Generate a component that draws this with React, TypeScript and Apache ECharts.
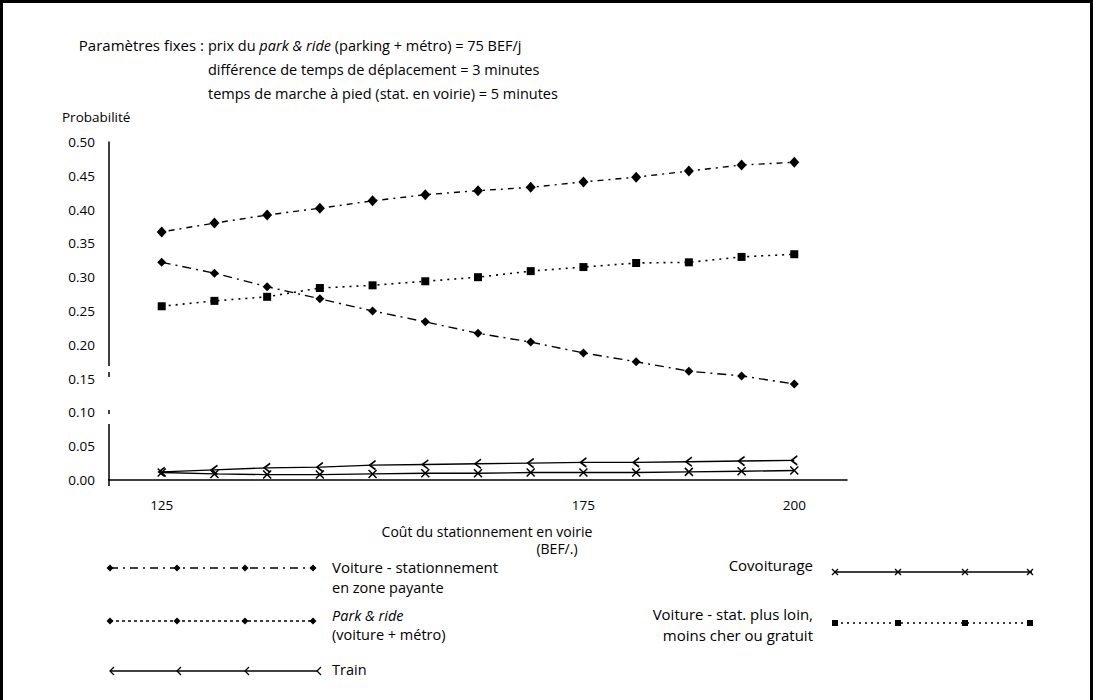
import React, { useEffect, useRef } from "react";
import * as echarts from "echarts";

const xValues = [125, 131.25, 137.5, 143.75, 150, 156.25, 162.5, 168.75, 175, 181.25, 187.5, 193.75, 200];
const xTickLabels = [125, 175, 200];
const yTickLabels = ["0.00", "0.05", "0.10", "0.15", "0.20", "0.25", "0.30", "0.35", "0.40", "0.45", "0.50"];

const parkRide = [0.367, 0.38, 0.392, 0.402, 0.413, 0.422, 0.428, 0.433, 0.441, 0.448, 0.457, 0.466, 0.47];
const voitureZone = [0.322, 0.306, 0.286, 0.268, 0.25, 0.234, 0.217, 0.204, 0.188, 0.175, 0.161, 0.154, 0.142];
const voitureLoin = [0.257, 0.265, 0.271, 0.284, 0.288, 0.294, 0.3, 0.309, 0.315, 0.321, 0.322, 0.33, 0.334];
const train = [0.012, 0.015, 0.018, 0.019, 0.022, 0.023, 0.024, 0.025, 0.026, 0.026, 0.027, 0.028, 0.029];
const covoit = [0.011, 0.009, 0.008, 0.008, 0.009, 0.01, 0.01, 0.011, 0.011, 0.011, 0.012, 0.013, 0.014];

const FONT = '"Open Sans", "Noto Sans", sans-serif';
const FS_TXT = 14.5;

const pair = (ys: number[]) => xValues.map((x, i) => [x, ys[i]]);

function txt(x: number, y: number, text: string, align = "left", italic = false, size = FS_TXT) {
  return {
    type: "text",
    x,
    y,
    silent: true,
    style: {
      text,
      fill: "#000",
      fontSize: size,
      fontFamily: FONT,
      fontStyle: italic ? "italic" : "normal",
      align,
      verticalAlign: "middle",
    },
  };
}

function marker(kind: string, x: number, y: number): any {
  if (kind === "diamond") {
    return { type: "polygon", shape: { points: [[x, y - 3.5], [x + 3.5, y], [x, y + 3.5], [x - 3.5, y]] }, style: { fill: "#000" } };
  }
  if (kind === "square") {
    return { type: "rect", shape: { x: x - 3, y: y - 3, width: 6, height: 6 }, style: { fill: "#000" } };
  }
  if (kind === "x") {
    return {
      type: "group",
      children: [
        { type: "line", shape: { x1: x - 3, y1: y - 3, x2: x + 3, y2: y + 3 }, style: { stroke: "#000", lineWidth: 1.3 } },
        { type: "line", shape: { x1: x + 3, y1: y - 3, x2: x - 3, y2: y + 3 }, style: { stroke: "#000", lineWidth: 1.3 } },
      ],
    };
  }
  return { type: "polyline", shape: { points: [[x + 4, y - 4], [x, y], [x + 4, y + 4]] }, style: { stroke: "#000", fill: "none", lineWidth: 1.3 } };
}

function legendRow(x1: number, x2: number, y: number, dash: any, kind: string, marks: number[]) {
  const els: any[] = [
    { type: "line", shape: { x1, y1: y, x2, y2: y }, style: { stroke: "#000", lineWidth: 1.3, lineDash: dash } },
  ];
  marks.forEach((mx) => els.push(marker(kind, mx, y)));
  return { type: "group", silent: true, children: els };
}

export default function App() {
  const ref = useRef<HTMLDivElement>(null);
  useEffect(() => {
    const chart = echarts.init(ref.current!, null, { renderer: "svg" });
    const lineBase = { color: "#000", width: 1.4 };
    const option: any = {
      animation: false,
      backgroundColor: "#fff",
      grid: { left: 109, right: 246, top: 142, bottom: 220, containLabel: false },
      xAxis: {
        type: "value",
        min: 118.75,
        max: 206.25,
        interval: 6.25,
        offset: 5,
        axisLine: { show: true, lineStyle: { color: "#000", width: 1.5 } },
        axisTick: { show: false },
        splitLine: { show: false },
        axisLabel: {
          margin: 13,
          color: "#000",
          fontSize: 13.5,
          fontFamily: FONT,
          formatter: (v: number) => (xTickLabels.includes(v) ? String(v) : ""),
        },
      },
      yAxis: {
        type: "value",
        min: 0,
        max: 0.5,
        interval: 0.05,
        axisLine: { show: true, lineStyle: { color: "#000", width: 1.5 } },
        axisTick: { show: false },
        splitLine: { show: false },
        axisLabel: {
          margin: 14,
          color: "#000",
          fontSize: 13.5,
          fontFamily: FONT,
          formatter: (v: number) => yTickLabels[Math.round(v / 0.05)] ?? "",
        },
      },
      series: [
        {
          name: "Park & ride",
          type: "line",
          data: pair(parkRide),
          symbol: "diamond",
          symbolSize: [10, 11],
          itemStyle: { color: "#000" },
          lineStyle: { ...lineBase, type: [2, 5, 6, 5] },
        },
        {
          name: "Voiture - stationnement en zone payante",
          type: "line",
          data: pair(voitureZone),
          symbol: "diamond",
          symbolSize: [9, 9],
          itemStyle: { color: "#000" },
          lineStyle: { ...lineBase, type: [9, 5, 2, 5] },
        },
        {
          name: "Voiture - stat. plus loin, moins cher ou gratuit",
          type: "line",
          data: pair(voitureLoin),
          symbol: "rect",
          symbolSize: 8,
          itemStyle: { color: "#000" },
          lineStyle: { ...lineBase, width: 1.6, type: [2, 5] },
        },
        {
          name: "Train",
          type: "line",
          data: pair(train),
          symbol: "path://M8,0 L0,5 L8,10",
          symbolSize: [6, 9],
          itemStyle: { color: "rgba(0,0,0,0)", borderColor: "#000", borderWidth: 1.5 },
          lineStyle: { ...lineBase, type: "solid" },
        },
        {
          name: "Covoiturage",
          type: "line",
          data: pair(covoit),
          symbol: "path://M0,0 L10,10 M10,0 L0,10",
          symbolSize: 8,
          itemStyle: { color: "rgba(0,0,0,0)", borderColor: "#000", borderWidth: 1.5 },
          lineStyle: { ...lineBase, type: "solid" },
        },
      ],
      graphic: [
        // frame
        { type: "rect", silent: true, z: 100, shape: { x: 1.5, y: 1.5, width: 1090, height: 720 }, style: { fill: "none", stroke: "#000", lineWidth: 3 } },
        // y axis extension to the offset x axis and the breaks
        { type: "line", silent: true, z: 100, shape: { x1: 109, y1: 479, x2: 109, y2: 486 }, style: { stroke: "#000", lineWidth: 1.5 } },
        { type: "rect", silent: true, z: 100, shape: { x: 105, y: 366, width: 8, height: 6 }, style: { fill: "#fff" } },
        { type: "rect", silent: true, z: 100, shape: { x: 105, y: 377, width: 8, height: 33 }, style: { fill: "#fff" } },
        { type: "rect", silent: true, z: 100, shape: { x: 105, y: 414, width: 8, height: 10 }, style: { fill: "#fff" } },
        // header
        txt(204, 45, "Paramètres fixes :", "right", false, 15),
        {
          type: "text",
          x: 208,
          y: 45,
          silent: true,
          style: {
            text: "prix du {i|park & ride} (parking + métro) = 75 BEF/j",
            fill: "#000",
            fontSize: FS_TXT,
            fontFamily: FONT,
            verticalAlign: "middle",
            rich: { i: { fontStyle: "italic", fontSize: FS_TXT, fontFamily: FONT, fill: "#000" } },
          },
        },
        txt(208, 69, "différence de temps de déplacement = 3 minutes"),
        txt(208, 93, "temps de marche à pied (stat. en voirie) = 5 minutes"),
        txt(62, 117, "Probabilité", "left", false, 13.5),
        // axis title
        txt(487, 531, "Coût du stationnement en voirie", "center", false, 14),
        txt(557, 548, "(BEF/.)", "center", false, 14),
        // legend left
        legendRow(110, 313, 568, [8, 5, 2, 5], "diamond", [110, 177, 245, 313]),
        txt(332, 567, "Voiture - stationnement", "left", false, 15),
        txt(332, 587, "en zone payante"),
        legendRow(110, 313, 621, [3, 3], "diamond", [110, 177, 245, 313]),
        txt(332, 615, "Park & ride", "left", true),
        txt(332, 634, "(voiture + métro)"),
        legendRow(110, 317, 671, null, "lt", [110, 177, 245, 317]),
        txt(332, 669, "Train"),
        // legend right
        txt(813, 565, "Covoiturage", "right", false, 15),
        legendRow(835, 1032, 572, null, "x", [835, 898, 965, 1030]),
        txt(813, 614, "Voiture - stat. plus loin,", "right", false, 15),
        txt(813, 635, "moins cher ou gratuit", "right", false, 15),
        legendRow(835, 1032, 623, [2, 4], "square", [835, 898, 965, 1030]),
      ],
    };
    chart.setOption(option);
    return () => chart.dispose();
  }, []);
  return (
    <div
      ref={ref}
      style={{ position: "absolute", left: 0, top: 0, width: 1093, height: 700, background: "#fff" }}
    />
  );
}
